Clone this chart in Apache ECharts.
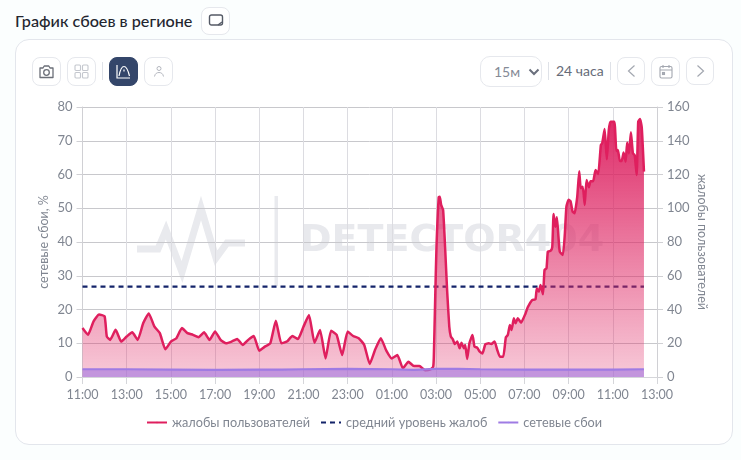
<!DOCTYPE html>
<html><head><meta charset="utf-8">
<script src="https://cdn.jsdelivr.net/npm/echarts@6/dist/echarts.min.js"></script>
<style>
html,body{margin:0;padding:0;background:#fbfefe;width:741px;height:460px;overflow:hidden;font-family:Lato,"Noto Sans",sans-serif}
#card{position:absolute;left:15px;top:39px;width:716px;height:404px;background:#fff;border:1px solid #e3e6ec;border-radius:14px}
#chart{position:absolute;left:0;top:0;width:741px;height:460px}
.btn{position:absolute;width:27px;height:27px;border:1px solid #e6e8ed;border-radius:8px;background:#fff;display:flex;align-items:center;justify-content:center;box-sizing:border-box}
.t{position:absolute;white-space:nowrap}
.sep{position:absolute;width:1px;height:18px;background:#dfe2e8}
</style></head><body>
<div id="card"></div>
<div class="t" style="left:15px;top:11px;font-size:16.2px;font-weight:500;color:#23262f">График сбоев в регионе</div>
<div class="btn" style="left:201px;top:7px;width:29px;height:28px"><svg width="16" height="14" viewBox="0 0 16 14" fill="none" stroke="#555a66" stroke-width="1.4"><rect x="1.5" y="1" width="13" height="10" rx="2"/><path d="M10 11l4-3" /></svg></div>
<div class="btn" style="left:32px;top:57px;width:29px;height:29px"><svg width="17" height="15" viewBox="0 0 17 15" fill="none" stroke="#6b6f78" stroke-width="1.3"><path d="M2 4h3l1.2-2h4.6L12 4h3v9.5H2z" stroke-linejoin="round"/><circle cx="8.5" cy="8.5" r="2.8"/></svg></div>
<div class="btn" style="left:67px;top:57px;width:29px;height:29px"><svg width="15" height="15" viewBox="0 0 15 15" fill="none" stroke="#c4c7ce" stroke-width="1.1"><rect x="1" y="1" width="5.5" height="5.5" rx="1"/><rect x="8.5" y="1" width="5.5" height="5.5" rx="1"/><rect x="1" y="8.5" width="5.5" height="5.5" rx="1"/><rect x="8.5" y="8.5" width="5.5" height="5.5" rx="1"/></svg></div>
<div class="sep" style="left:102px;top:62px"></div>
<div class="btn" style="left:109px;top:57px;width:29px;height:29px;background:#34466a;border-color:#34466a"><svg width="15" height="15" viewBox="0 0 15 15" fill="none" stroke="#fff" stroke-width="1.2"><path d="M1 1v13h13"/><path d="M3 12C4.5 4 6 2.5 8 2.5S11.5 4 13.5 12"/><path d="M8 5.5v2"/></svg></div>
<div class="btn" style="left:144px;top:57px;width:29px;height:29px"><svg width="12" height="13" viewBox="0 0 12 13" fill="none" stroke="#b4b7bf" stroke-width="1"><circle cx="6" cy="3.5" r="2"/><path d="M1.5 11.5c.5-3 2.5-4 4.5-4s4 1 4.5 4"/></svg></div>
<div class="btn" style="left:480px;top:56px;width:62px;height:31px;border-radius:10px;justify-content:flex-start"></div>
<div class="t" style="left:494px;top:63px;font-size:14px;color:#858a96">15м</div>
<svg style="position:absolute;left:528px;top:68px" width="12" height="8" viewBox="0 0 12 8" fill="none" stroke="#6a6f7c" stroke-width="2"><path d="M1.5 1.5L6 6l4.5-4.5"/></svg>
<div class="sep" style="left:548px;top:62px"></div>
<div class="t" style="left:556px;top:62px;font-size:14px;color:#666b78">24 часа</div>
<div class="sep" style="left:610px;top:62px"></div>
<div class="btn" style="left:617px;top:57px;width:28px;height:28px"><svg width="9" height="14" viewBox="0 0 9 14" fill="none" stroke="#a3a7b0" stroke-width="1.2"><path d="M7.5 1.5L1.5 7l6 5.5"/></svg></div>
<div class="btn" style="left:651px;top:57px;width:29px;height:29px"><svg width="14" height="15" viewBox="0 0 14 15" fill="none" stroke="#a3a7b0" stroke-width="1.1"><rect x="1" y="2.5" width="12" height="11.5" rx="1.5"/><path d="M1 6h12M4 1v3M10 1v3"/><rect x="3.5" y="8.5" width="2" height="2"/></svg></div>
<div class="btn" style="left:686px;top:57px;width:28px;height:28px"><svg width="9" height="14" viewBox="0 0 9 14" fill="none" stroke="#a3a7b0" stroke-width="1.2"><path d="M1.5 1.5l6 5.5-6 5.5"/></svg></div>
<div id="chart"></div>
<script>
const xTickLabels = ['11:00','13:00','15:00','17:00','19:00','21:00','23:00','01:00','03:00','05:00','07:00','09:00','11:00','13:00'];
const leftTicks = [0,10,20,30,40,50,60,70,80];
// hours since 11:00
const complaintHours = [0,0.25,0.5,0.75,1,1.1,1.25,1.5,1.75,2,2.25,2.5,2.75,3,3.25,3.5,3.75,4,4.25,4.5,4.75,5,5.25,5.5,5.75,6,6.25,6.5,6.75,7,7.25,7.5,7.75,8,8.25,8.5,8.75,9,9.25,9.5,9.75,10,10.25,10.5,10.75,11,11.25,11.5,11.75,12,12.25,12.5,12.75,13,13.25,13.5,13.75,14,14.25,14.5,14.75,15,15.25,15.5,15.75,15.87,15.9,15.96,16.02,16.12,16.17,16.23,16.32,16.41,16.5,16.6,16.67,16.76,16.85,16.96,17.07,17.15,17.26,17.32,17.41,17.51,17.65,17.74,17.86,17.98,18.1,18.23,18.39,18.5,18.65,18.77,18.89,19.04,19.16,19.25,19.34,19.42,19.52,19.6,19.7,19.85,20.05,20.15,20.35,20.5,20.56,20.65,20.73,20.84,20.91,21,21.06,21.18,21.26,21.32,21.4,21.47,21.54,21.6,21.74,21.83,21.9,22,22.09,22.18,22.27,22.39,22.48,22.55,22.64,22.73,22.81,22.92,22.99,23.11,23.22,23.34,23.46,23.52,23.63,23.73,23.82,23.9,24.07,24.16,24.23,24.32,24.4,24.49,24.58,24.65,24.73,24.82,24.91,24.99,25.08,25.15,25.23,25.31,25.41];
const complaints = [29,25,33,37,36,24,22,28,21,24,26.5,22,32,37.7,30,26,16.4,21,23,29,26,25,23.6,26.5,22,27,22,20,21,22.5,19,22,24.3,15.6,18,20,33.4,20,21,24.3,22.5,29.8,36.7,20.3,27.8,11,27.4,25,13,26.9,24.3,23,19,7.7,16.4,23,15.6,11,13,5.1,9,6.5,6.5,4,4.6,6.1,12,45.6,77,106.5,106.8,102,99,77,51.6,29.8,23.9,22.3,19.5,21,17,20.3,17,19,10.7,20,24.9,18,17.4,15,14,19.4,20,19.5,21,16,12,12,23.5,24.9,30.8,27.8,34.8,31.8,34.8,32.2,37.7,41.3,45.6,46,52.5,50.6,54.5,49,63.4,64.4,74.3,74.7,77,96.6,89,94.6,83,74.3,72.3,85,101,105,104,98,97,106.8,122,111.8,112.8,102,116.7,112.4,116,116,122.7,120.3,137.5,138.5,147,129,146.4,151.3,151.3,134,134.5,128,128,133,127.6,139,132.5,145,132.5,131.5,119.7,151.3,152.9,148,121.7];
const averageComplaints = 53.5;
const outageHours = [0,2,4,6,8,9,10,12,14,15,16,17,18,20,22,24,25.41];
const outages = [2.3,2.3,2.2,2.1,2.2,2.2,2.3,2.4,2.3,2.1,2.4,2.4,2.3,2.2,2.2,2.2,2.3];
const zip = (a,b)=>a.map((h,i)=>[h,b[i]]);
const lastHour = complaintHours[complaintHours.length-1];
const txt = '#808691';
const chart = echarts.init(document.getElementById('chart'),null,{renderer:'canvas'});
chart.setOption({
  animation:false,
  backgroundColor:'transparent',
  textStyle:{fontFamily:'Lato, "Noto Sans", sans-serif'},
  grid:{left:82.5,right:84,top:107,bottom:83,containLabel:false},
  graphic:[
    {type:'polyline',z:-1,silent:true,shape:{points:[[137,249],[158,249],[166,230],[182,272],[201,208],[216,258],[227,243],[245,243]]},style:{fill:null,stroke:'#e9eaee',lineWidth:7,lineJoin:'miter'}},
    {type:'rect',z:-1,silent:true,shape:{x:274.5,y:196,width:3.5,height:90},style:{fill:'#e9eaee'}},
    {type:'text',z:-1,silent:true,style:{x:300,y:222,text:'DETECTOR404',fill:'#e8e9ed',font:'bold 38px "DejaVu Sans", sans-serif'}}
  ],
  legend:{
    top:411,left:141,itemWidth:20,itemHeight:2,itemGap:10,
    textStyle:{color:txt,fontSize:12.7},
    data:['жалобы пользователей','средний уровень жалоб','сетевые сбои']
  },
  xAxis:{type:'value',min:0,max:26,interval:2,
    axisLine:{show:true,lineStyle:{color:'#d5d6da'}},
    axisTick:{show:true,length:7,lineStyle:{color:'#d5d6da'}},
    axisLabel:{color:txt,fontSize:12.5,margin:11,formatter:v=>xTickLabels[v/2]},
    splitLine:{show:true,lineStyle:{color:'#dcdce1'}}},
  yAxis:[
    {type:'value',min:0,max:80,interval:10,name:'сетевые сбои, %',nameLocation:'middle',nameGap:32,nameRotate:90,nameMoveOverlap:false,
     nameTextStyle:{color:txt,fontSize:12.5},
     axisLine:{show:true,lineStyle:{color:'#d0d0d4'}},
     axisTick:{show:true,length:6,lineStyle:{color:'#d0d0d4'}},
     axisLabel:{color:txt,fontSize:13,margin:10,formatter:v=>String(leftTicks[v/10])},
     splitLine:{show:true,lineStyle:{color:'#c8c8cc'}}},
    {type:'value',min:0,max:160,interval:20,name:'жалобы пользователей',nameLocation:'middle',nameGap:39,nameRotate:-90,nameMoveOverlap:false,
     nameTextStyle:{color:txt,fontSize:12.5},
     axisLine:{show:true,lineStyle:{color:'#d0d0d4'}},
     axisTick:{show:true,length:6,lineStyle:{color:'#d0d0d4'}},
     axisLabel:{color:txt,fontSize:13,margin:10},
     splitLine:{show:false}}
  ],
  series:[
    {name:'средний уровень жалоб',type:'line',yAxisIndex:1,z:2,symbol:'none',
     data:[[0,averageComplaints],[lastHour,averageComplaints]],
     lineStyle:{color:'#14246a',width:2.2,type:[5,4]},itemStyle:{color:'#14246a'}},
    {name:'жалобы пользователей',type:'line',yAxisIndex:1,z:3,symbol:'none',smooth:0.15,
     data:zip(complaintHours,complaints),
     lineStyle:{color:'#df1f5e',width:2.5,join:'round'},itemStyle:{color:'#df1f5e'},
     areaStyle:{opacity:1,color:new echarts.graphic.LinearGradient(0,0,0,1,[{offset:0,color:'rgba(220,30,95,0.95)'},{offset:1,color:'rgba(224,40,100,0.25)'}])}},
    {name:'сетевые сбои',type:'line',yAxisIndex:0,z:4,symbol:'none',
     data:zip(outageHours,outages),
     lineStyle:{color:'#9f7be3',width:2.2},itemStyle:{color:'#9a84f0'},
     areaStyle:{opacity:1,color:'rgba(160,115,225,0.6)'}}
  ]
});
</script>
</body></html>
